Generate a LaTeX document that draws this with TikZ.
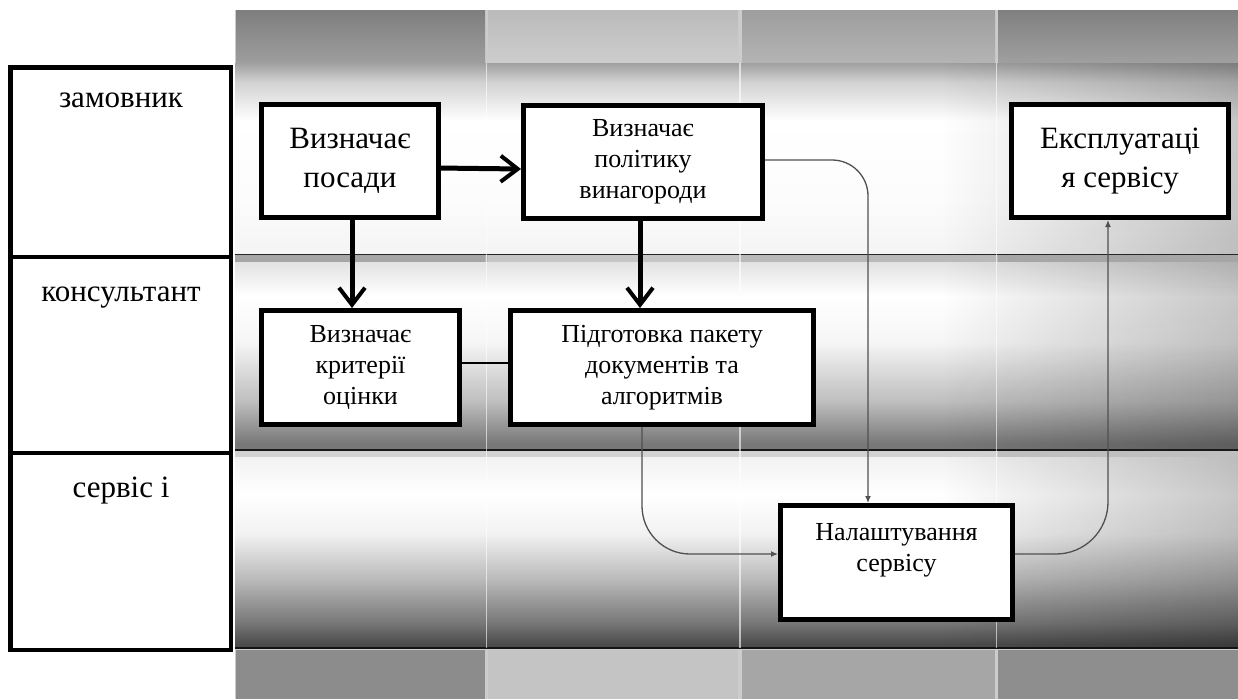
\documentclass[tikz,border=0pt]{standalone}
\usepackage{fontspec}
\setmainfont{Liberation Serif}
\usetikzlibrary{arrows.meta,fadings}

\definecolor{hdone}{HTML}{8C8C8C}
\definecolor{hdtwo}{HTML}{C4C4C4}
\definecolor{hdthree}{HTML}{A6A6A6}
\definecolor{hdfour}{HTML}{8E8E8E}
\definecolor{flowgray}{HTML}{505050}
\definecolor{laAa}{HTML}{F4F4F4}
\definecolor{laAb}{HTML}{FCFCFC}
\definecolor{laAc}{HTML}{D2D2D2}
\definecolor{laAd}{HTML}{A0A0A0}
\definecolor{laBa}{HTML}{787878}
\definecolor{laBb}{HTML}{BEBEBE}
\definecolor{laBc}{HTML}{F6F6F6}
\definecolor{laBd}{HTML}{E2E2E2}
\definecolor{laCa}{HTML}{4C4C4C}
\definecolor{laCb}{HTML}{7A7A7A}
\definecolor{laCc}{HTML}{BABABA}
\definecolor{laCd}{HTML}{F2F2F2}

\pgfdeclareverticalshading{laneA}{100bp}{color(0bp)=(laAa); color(25bp)=(laAa); color(40bp)=(laAb); color(60bp)=(white); color(70bp)=(laAc); color(75bp)=(laAd); color(100bp)=(laAd)}
\pgfdeclareverticalshading{laneB}{100bp}{color(0bp)=(laBa); color(27bp)=(laBa); color(38bp)=(laBb); color(54bp)=(laBc); color(66bp)=(white); color(75bp)=(laBd); color(100bp)=(laBd)}
\pgfdeclareverticalshading{laneC}{100bp}{color(0bp)=(laCa); color(26bp)=(laCa); color(32bp)=(laCb); color(43bp)=(laCc); color(55bp)=(laCd); color(65bp)=(white); color(75bp)=(laCd); color(100bp)=(laCd)}

\tikzfading[name=fadeR, left color=transparent!100, right color=transparent!0]

\begin{document}
\begin{tikzpicture}[x=1pt,y=-1pt,
  box/.style={draw=black,line width=5pt,fill=white,inner sep=0pt,align=center},
  bigtxt/.style={font=\fontsize{31}{39}\selectfont},
  smalltxt/.style={font=\fontsize{26}{31}\selectfont},
  lanetxt/.style={font=\fontsize{31}{37}\selectfont,anchor=base},
  lanecol/.style={draw=black,line width=4.5pt},
  boldarrow/.style={line width=5pt,-{Straight Barb[length=17pt,width=26pt,line width=4pt]}},
  flow/.style={line width=1.3pt,draw=flowgray,-{Latex[length=7pt,width=6pt]}},
  segline/.style={white,opacity=0.6,line width=1.5pt}
]
\useasboundingbox (0,0) rectangle (1238,699);
\fill[white] (0,0) rectangle (1238,699);

% header bar
\fill[gray!40] (235,10) rectangle (1238,63);
\shade[top color=hdone!90!black, bottom color=hdone!85!white] (236,10) rectangle (485,62);
\shade[top color=hdtwo!95!black, bottom color=hdtwo!85!white] (488,10) rectangle (738,62);
\shade[top color=hdthree!95!black, bottom color=hdthree!85!white] (742,10) rectangle (995,62);
\shade[top color=hdfour!90!black, bottom color=hdfour!85!white] (998,10) rectangle (1238,62);

% lanes
\shade[shading=laneA] (235,63) rectangle (1238,255);
\shade[shading=laneB] (235,262) rectangle (1238,451);
\shade[shading=laneC] (235,457) rectangle (1238,648);
\fill[black,path fading=fadeR,opacity=0.22] (940,63) rectangle (1238,648);

% lane separators
\fill[gray!55] (235,254) rectangle (1238,262);
\fill[gray!70] (235,254) rectangle (485,262);
\fill[gray!45] (488,254) rectangle (738,262);
\fill[gray!55] (742,254) rectangle (995,262);
\fill[gray!70] (998,254) rectangle (1238,262);
\draw[gray!30!black,line width=1pt] (235,254) -- (1238,254);
\fill[gray!35] (235,450) rectangle (1238,457);
\fill[gray!50] (998,450) rectangle (1238,457);
\draw[gray!20!black,line width=1.2pt] (235,450) -- (1238,450);

% bottom bar
\fill[gray!40] (235,648) rectangle (1238,699);
\fill[hdone] (236,650) rectangle (485,699);
\fill[hdtwo] (488,650) rectangle (738,699);
\fill[hdthree] (742,650) rectangle (995,699);
\fill[hdfour] (998,650) rectangle (1238,699);
\draw[gray!15!black,line width=1.5pt] (235,648) -- (1238,648);

% faint segment lines through the lanes
\draw[segline] (486.5,63) -- (486.5,648);
\draw[segline] (740,63) -- (740,648);
\draw[segline] (996.5,63) -- (996.5,648);

% lane label column
\fill[white] (10.25,67.25) rectangle (230.75,649.75);
\draw[lanecol] (10.25,67.25) rectangle (230.75,649.75);
\draw[lanecol] (10.25,257) -- (230.75,257);
\draw[lanecol] (10.25,453) -- (230.75,453);
\node[lanetxt] (l1) at (121,107) {замовник};
\node[lanetxt] (l2) at (121,301) {консультант};
\node[lanetxt] (l3) at (121,497) {сервіс і};

% process boxes
\node[box,bigtxt,minimum width=177pt,minimum height=113pt] (n1) at (350,161) {Визначає\\посади};
\node[box,smalltxt,minimum width=239pt,minimum height=113pt] (n2) at (643,162) {Визначає\\політику\\винагороди};
\node[box,bigtxt,minimum width=217pt,minimum height=113pt] (n3) at (1120,161) {Експлуатаці\\я сервісу};
\node[box,smalltxt,minimum width=198pt,minimum height=114pt] (n4) at (360.5,367.5) {Визначає\\критерії\\оцінки};
\node[box,smalltxt,minimum width=303pt,minimum height=114pt] (n5) at (662,367.5) {Підготовка пакету\\документів та\\алгоритмів};
\node[box,smalltxt,minimum width=232pt,minimum height=114pt] (n6) at (896.5,562.5) {Налаштування\\сервісу\\\mbox{}};

% bold connectors
\draw[boldarrow] ([xshift=-4pt,yshift=-7pt]n1.east) -- ([yshift=-7pt]n2.west);
\draw[boldarrow] ([xshift=2pt,yshift=4pt]n1.south) -- ([xshift=2pt]n1.south |- n4.north);
\draw[boldarrow] ([xshift=-3pt,yshift=4pt]n2.south) -- ([xshift=-3pt]n2.south |- n5.north);
\draw[line width=2.5pt] ([xshift=-2pt,yshift=4.5pt]n4.east) -- ([xshift=2pt,yshift=4.5pt]n5.west);

% thin flow connectors
\draw[flow,rounded corners=36pt] ([yshift=2pt]n2.east) -| ([xshift=-28.5pt]n6.north);
\draw[flow,rounded corners=48pt] ([xshift=-20pt]n5.south) |- ([yshift=8.5pt]n6.west);
\draw[flow,rounded corners=52pt] ([yshift=8.5pt]n6.east) -| ([xshift=-12pt]n3.south);
\end{tikzpicture}
\end{document}
